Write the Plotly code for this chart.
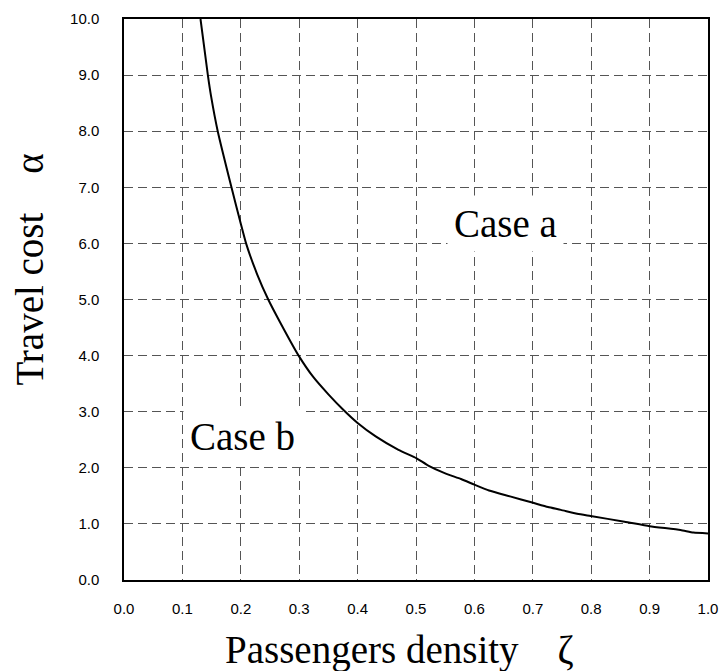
import plotly.graph_objects as go

# Data
zeta = [0.131, 0.1436, 0.149, 0.1605, 0.184, 0.200, 0.209, 0.228, 0.247, 0.267,
        0.299, 0.324, 0.350, 0.375, 0.400, 0.431, 0.470, 0.501, 0.521, 0.549,
        0.577, 0.600, 0.625, 0.661, 0.699, 0.726, 0.748, 0.776, 0.799, 0.857,
        0.900, 0.953, 0.975, 1.0]
alpha = [10.0, 9.0, 8.63, 8.0, 7.0, 6.35, 6.0, 5.45, 5.0, 4.6,
         4.0, 3.62, 3.31, 3.04, 2.80, 2.56, 2.32, 2.17, 2.04, 1.905,
         1.80, 1.70, 1.595, 1.49, 1.38, 1.30, 1.25, 1.18, 1.14, 1.04,
         0.96, 0.89, 0.845, 0.83]

x_ticks = [0.0, 0.1, 0.2, 0.3, 0.4, 0.5, 0.6, 0.7, 0.8, 0.9, 1.0]
y_ticks = [0, 1, 2, 3, 4, 5, 6, 7, 8, 9, 10]

labels = ["Case a", "Case b"]
label_x = [0.654, 0.203]
label_y = [6.35, 2.56]

x_title = "Passengers density\u00a0\u00a0\u00a0\u00a0ζ"
y_title = "Travel cost\u00a0\u00a0\u00a0\u00a0α"

serif = "Liberation Serif, Times New Roman, serif"
sans = "Liberation Sans, Arial, sans-serif"

fig = go.Figure()
fig.add_trace(go.Scatter(x=zeta, y=alpha, mode="lines",
                         line=dict(color="black", width=2, shape="spline", smoothing=0.5),
                         showlegend=False, hoverinfo="skip"))

for t, xx, yy in zip(labels, label_x, label_y):
    fig.add_annotation(x=xx, y=yy, text=t, showarrow=False,
                       font=dict(family=serif, size=39, color="black"),
                       bgcolor="white", borderpad=6)

# axis titles placed as paper-anchored annotations
fig.add_annotation(xref="paper", yref="paper", x=0.4714, y=-0.125,
                   text=x_title, showarrow=False, xanchor="center", yanchor="middle",
                   font=dict(family=serif, size=39, color="black"))
fig.add_annotation(xref="paper", yref="paper", x=-0.162, y=0.554,
                   text=y_title, showarrow=False, textangle=-90,
                   xanchor="center", yanchor="middle",
                   font=dict(family=serif, size=39, color="black"))

fig.update_layout(
    width=728, height=671,
    margin=dict(l=124, r=10, t=19, b=91),
    paper_bgcolor="white", plot_bgcolor="white",
)
fig.update_xaxes(
    range=[0, 1], tickvals=x_ticks, ticktext=[f"{v:.1f}" for v in x_ticks],
    showline=True, mirror=True, linecolor="black", linewidth=1.5,
    showgrid=True, gridcolor="#555555", gridwidth=1, griddash="9px,5px",
    zeroline=False, ticks="", ticklabelstandoff=14,
    tickfont=dict(family=sans, size=15, color="black"),
)
fig.update_yaxes(
    range=[0, 10], tickvals=y_ticks, ticktext=[f"{v:.1f}" for v in y_ticks],
    showline=True, mirror=True, linecolor="black", linewidth=1.5,
    showgrid=True, gridcolor="#555555", gridwidth=1, griddash="9px,5px",
    zeroline=False, ticks="", ticklabelstandoff=20,
    tickfont=dict(family=sans, size=15, color="black"),
)

fig.write_html("out.html")
